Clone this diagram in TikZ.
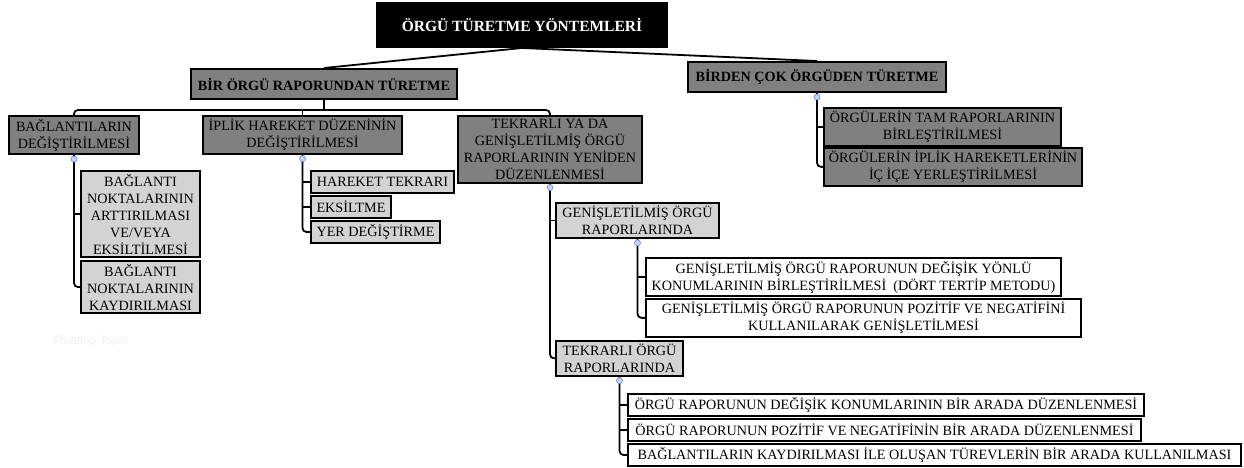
\documentclass[tikz,border=0pt]{standalone}
\usepackage{fontspec}
\setmainfont{Liberation Serif}
\newfontfamily\floatfont{Liberation Sans}
\definecolor{nodeDark}{RGB}{128,128,128}
\definecolor{nodeLight}{RGB}{211,211,211}
\definecolor{markBlue}{RGB}{196,214,238}
\usetikzlibrary{calc,shapes,positioning}

\begin{document}
\begin{tikzpicture}[x=1pt,y=-1pt,font=\fontsize{14.2}{17}\selectfont,
          boxBase/.style={
            draw=black,
            line width=2pt,
            anchor=north west,
            align=center,
            inner xsep=3pt,
            inner ysep=3pt},
          rootNode/.style={
            boxBase,
            fill=black,
            text=white,
            font=\fontsize{15.5}{18}\selectfont\bfseries,
            minimum height=44pt},
          topNode/.style={
            boxBase,
            fill=nodeDark,
            font=\fontsize{14.2}{17}\selectfont\bfseries,
            minimum height=30pt},
          darkNode/.style={boxBase, fill=nodeDark},
          lightNode/.style={boxBase, fill=nodeLight},
          leafNode/.style={boxBase, fill=white},
          conn/.style={line width=1.8pt, rounded corners=4pt},
          marker/.style={fill=markBlue, draw=markBlue!60!blue, line width=.6pt}
        ]
          \useasboundingbox (0,0) rectangle (1244,468);

          \node[rootNode, minimum width=290pt] (root) at (376,2) {ÖRGÜ TÜRETME YÖNTEMLERİ};

          \node[topNode, minimum width=266pt] (bir) at (190,68) {BİR ÖRGÜ RAPORUNDAN TÜRETME};
          \node[topNode, minimum width=258pt] (birden) at (687,61) {BİRDEN ÇOK ÖRGÜDEN TÜRETME};

          \node[darkNode, minimum width=130pt] (bag) at (8,115) {BAĞLANTILARIN\\DEĞİŞTİRİLMESİ};
          \node[darkNode, minimum width=199pt] (iplik) at (202,115) {İPLİK HAREKET DÜZENİNİN\\DEĞİŞTİRİLMESİ};
          \node[darkNode, minimum width=184pt] (tekya) at (457,115) {TEKRARLI YA DA\\GENİŞLETİLMİŞ ÖRGÜ\\RAPORLARININ YENİDEN\\DÜZENLENMESİ};

          \node[lightNode, minimum width=119pt] (bagA) at (80,170) {BAĞLANTI\\NOKTALARININ\\ARTTIRILMASI\\VE/VEYA\\EKSİLTİLMESİ};
          \node[lightNode, minimum width=119pt] (bagB) at (80,260) {BAĞLANTI\\NOKTALARININ\\KAYDIRILMASI};

          \node[lightNode, minimum width=143pt, minimum height=22pt] (hareket) at (310,170) {HAREKET TEKRARI};
          \node[lightNode, minimum width=80pt, minimum height=22pt] (eksilt) at (310,195) {EKSİLTME};
          \node[lightNode, minimum width=129pt, minimum height=22pt] (yer) at (310,220) {YER DEĞİŞTİRME};

          \node[lightNode, minimum width=163pt] (genis) at (555,202) {GENİŞLETİLMİŞ ÖRGÜ\\RAPORLARINDA};
          \node[leafNode, minimum width=415pt] (genA) at (645,257) {GENİŞLETİLMİŞ ÖRGÜ RAPORUNUN DEĞİŞİK YÖNLÜ\\KONUMLARININ BİRLEŞTİRİLMESİ\ \ (DÖRT TERTİP METODU)};
          \node[leafNode, minimum width=435pt] (genB) at (645,298) {GENİŞLETİLMİŞ ÖRGÜ RAPORUNUN POZİTİF VE NEGATİFİNİ\\KULLANILARAK GENİŞLETİLMESİ};

          \node[lightNode, minimum width=127pt] (tekorg) at (555,340) {TEKRARLI ÖRGÜ\\RAPORLARINDA};
          \node[leafNode, minimum width=516pt, minimum height=22pt] (tekA) at (627,393) {ÖRGÜ RAPORUNUN DEĞİŞİK KONUMLARININ BİR ARADA DÜZENLENMESİ};
          \node[leafNode, minimum width=513pt, minimum height=22pt] (tekB) at (627,418) {ÖRGÜ RAPORUNUN POZİTİF VE NEGATİFİNİN BİR ARADA DÜZENLENMESİ};
          \node[leafNode, minimum width=613pt, minimum height=22pt] (tekC) at (627,443) {BAĞLANTILARIN KAYDIRILMASI İLE OLUŞAN TÜREVLERİN BİR ARADA KULLANILMASI};

          \node[darkNode, minimum width=237pt] (orgA) at (823,107) {ÖRGÜLERİN TAM RAPORLARININ\\BİRLEŞTİRİLMESİ};
          \node[darkNode, minimum width=258pt] (orgB) at (823,147) {ÖRGÜLERİN İPLİK HAREKETLERİNİN\\İÇ İÇE YERLEŞTİRİLMESİ};

          \node[anchor=west, text=black!6, font=\floatfont\fontsize{12}{14}\selectfont] (floating) at (50,341) {Floating Topic};

          % root to both branches
          \draw[line width=1.8pt] (root.south) -- (bir.north);
          \draw[line width=1.8pt] (root.south) -- (birden.north);

          \coordinate (bus) at ($(bir.south)+(0,10)$);
          \draw[conn] (bir.south) -- (bus);
          \draw[conn] (bag.north) |- (bus) -| (tekya.north);
          \draw[conn] (iplik.north) -- (iplik.north |- bus);

          \draw[conn] (bag.south) |- (bagB.west);
          \draw[conn] (bagA.west) -- (bagA.west -| bag.south);

          \draw[conn] (iplik.south) |- (yer.west);
          \draw[conn] (hareket.west) -- (hareket.west -| iplik.south);
          \draw[conn] (eksilt.west) -- (eksilt.west -| iplik.south);

          \draw[conn] (tekya.south) |- (tekorg.west);
          \draw[conn] (genis.west) -- (genis.west -| tekya.south);

          \draw[conn] (genis.south) |- (genB.west);
          \draw[conn] (genA.west) -- (genA.west -| genis.south);

          \draw[conn] (tekorg.south) |- (tekC.west);
          \draw[conn] (tekA.west) -- (tekA.west -| tekorg.south);
          \draw[conn] (tekB.west) -- (tekB.west -| tekorg.south);

          \draw[conn] (birden.south) |- (orgB.west);
          \draw[conn] (orgA.west) -- (orgA.west -| birden.south);

          % collapse markers
          \foreach \p in {bag,iplik,tekya,genis,tekorg,birden}
            \draw[marker] ($(\p.south)+(0,4)$) circle (3pt);
        \end{tikzpicture}
\end{document}
